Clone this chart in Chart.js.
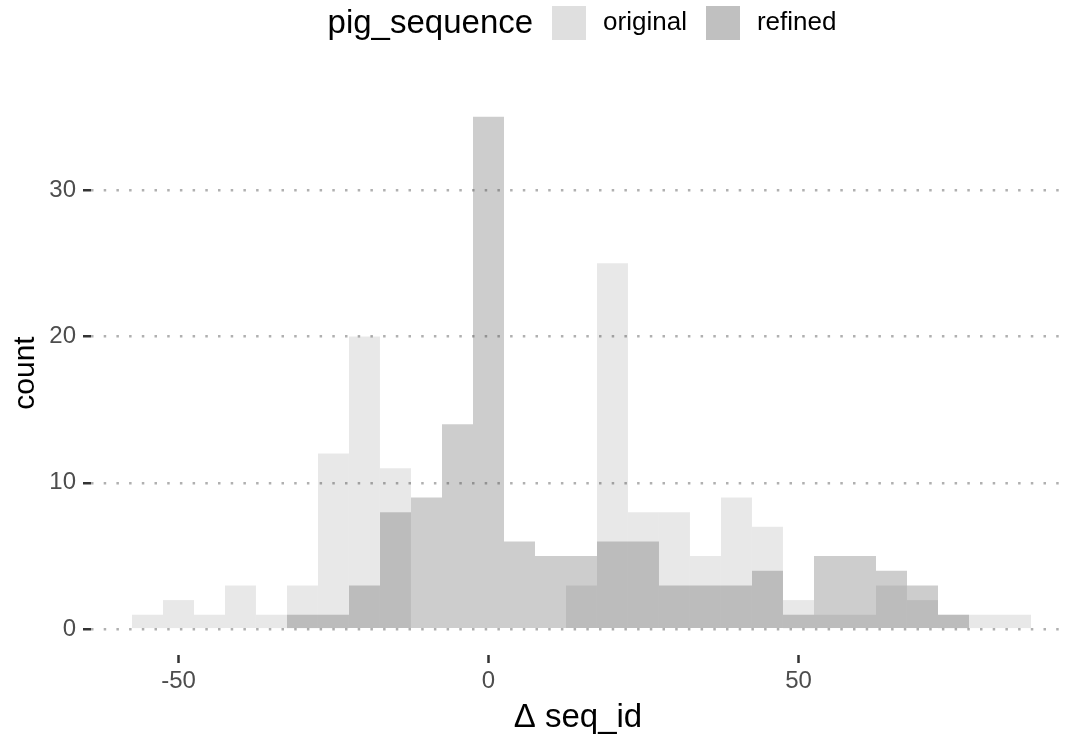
<!DOCTYPE html>
<html>
<head>
<meta charset="utf-8">
<script src="https://cdn.jsdelivr.net/npm/chart.js@4/dist/chart.umd.min.js"></script>
<style>
  html, body { margin: 0; padding: 0; background: #ffffff; }
  #wrap { width: 1067px; height: 735px; }
</style>
</head>
<body>
<div id="wrap"><canvas id="hist" width="1067" height="735"></canvas></div>
<script>
// Histogram bins (width 5), centred on multiples of 5
const binCenters = [-55, -50, -45, -40, -35, -30, -25, -20, -15, -10, -5, 0, 5, 10, 15,
                    20, 25, 30, 35, 40, 45, 50, 55, 60, 65, 70, 75, 80, 85];
const originalCounts = [1, 2, 1, 3, 1, 3, 12, 20, 11, 0, 0, 0, 0, 0, 3,
                        25, 8, 8, 5, 9, 7, 2, 1, 1, 3, 2, 1, 1, 1];
const refinedCounts  = [0, 0, 0, 0, 0, 1, 1, 3, 8, 9, 14, 35, 6, 5, 5,
                        6, 6, 3, 3, 3, 4, 1, 5, 5, 4, 3, 1, 0, 0];
const seriesNames = ['original', 'refined'];
const xTickValues = [-50, 0, 50];
const yTickValues = [0, 10, 20, 30];
const legendTitle = 'pig_sequence';
const xTitle = 'Δ seq_id';
const yTitle = 'count';

const FONT = '"Liberation Sans", Arial, Helvetica, sans-serif';

// Legend drawn on one row: title, then key + label for each series
const inlineLegend = {
  id: 'inlineLegend',
  afterDraw(chart, args, opts) {
    const ctx = chart.ctx;
    ctx.save();
    ctx.textBaseline = 'middle';
    ctx.textAlign = 'left';
    ctx.font = opts.titleSize + 'px ' + FONT;
    const titleW = ctx.measureText(opts.title).width;
    ctx.font = opts.labelSize + 'px ' + FONT;
    const items = chart.data.datasets.map((ds, i) => ({
      text: ds.label,
      w: ctx.measureText(ds.label).width,
      color: opts.keyColors[i]
    }));
    let total = titleW;
    items.forEach(it => { total += opts.gapKey + opts.box + opts.gapText + it.w; });
    const ca = chart.chartArea;
    let x = (ca.left + ca.right) / 2 + opts.shift - total / 2;
    const cy = opts.centerY;
    ctx.fillStyle = '#000000';
    ctx.font = opts.titleSize + 'px ' + FONT;
    ctx.fillText(opts.title, x, cy + 1);
    x += titleW;
    ctx.font = opts.labelSize + 'px ' + FONT;
    items.forEach(it => {
      x += opts.gapKey;
      ctx.fillStyle = it.color;
      ctx.fillRect(Math.round(x), cy - opts.box / 2, opts.box, opts.box);
      x += opts.box + opts.gapText;
      ctx.fillStyle = '#000000';
      ctx.fillText(it.text, x, cy);
      x += it.w;
    });
    ctx.restore();
  }
};

const toPoints = counts => binCenters.map((c, i) => ({ x: c, y: counts[i] }));

new Chart(document.getElementById('hist'), {
  type: 'bar',
  data: {
    datasets: [
      {
        label: seriesNames[0],
        data: toPoints(originalCounts),
        backgroundColor: 'rgba(0,0,0,0.09)',
        order: 1
      },
      {
        label: seriesNames[1],
        data: toPoints(refinedCounts),
        backgroundColor: 'rgba(60,60,60,0.26)',
        order: 0
      }
    ]
  },
  options: {
    responsive: false,
    animation: false,
    devicePixelRatio: 1,
    layout: { padding: { top: 91, right: 2, bottom: 0, left: 0 } },
    datasets: {
      bar: {
        grouped: false,
        barPercentage: 1,
        categoryPercentage: 1,
        borderWidth: 0,
        inflateAmount: 0
      }
    },
    plugins: {
      legend: { display: false },
      tooltip: { enabled: false },
      inlineLegend: {
        title: legendTitle,
        titleSize: 33,
        labelSize: 26,
        keyColors: ['#dfdfdf', '#c0c0c0'],
        box: 34,
        gapKey: 19,
        gapText: 17,
        centerY: 23,
        shift: 4
      }
    },
    scales: {
      x: {
        type: 'linear',
        // 31 px per bin so bin edges land on whole pixels
        min: -64.1129,
        max: 92.984,
        offset: false,
        afterBuildTicks: s => { s.ticks = xTickValues.map(v => ({ value: v })); },
        afterFit: s => { s.height = 80; },
        grid: {
          drawOnChartArea: false,
          drawTicks: true,
          offset: false,
          tickLength: 8,
          tickWidth: 2.5,
          tickColor: '#333333'
        },
        border: { display: false },
        ticks: {
          color: '#4d4d4d',
          font: { family: FONT, size: 24 },
          padding: 4,
          maxRotation: 0,
          callback: v => String(v)
        },
        title: {
          display: true,
          text: xTitle,
          color: '#000000',
          font: { family: FONT, size: 33 },
          padding: { top: 0, bottom: -3 }
        }
      },
      y: {
        type: 'linear',
        min: -1.75,
        max: 36.75,
        afterBuildTicks: s => { s.ticks = yTickValues.map(v => ({ value: v })); },
        afterFit: s => { s.width = 91; },
        grid: {
          drawOnChartArea: true,
          drawTicks: true,
          color: '#b0b0b0',
          lineWidth: 2.5,
          tickLength: 8,
          tickWidth: 2.5,
          tickColor: '#333333',
          tickBorderDash: []
        },
        border: { display: false, dash: [2.5, 10.2], dashOffset: 0 },
        ticks: {
          color: '#4d4d4d',
          font: { family: FONT, size: 24 },
          padding: 7,
          callback: v => String(v)
        },
        title: {
          display: true,
          text: yTitle,
          color: '#000000',
          font: { family: FONT, size: 30 },
          padding: { top: 8, bottom: 0 }
        }
      }
    }
  },
  plugins: [inlineLegend]
});
</script>
</body>
</html>
